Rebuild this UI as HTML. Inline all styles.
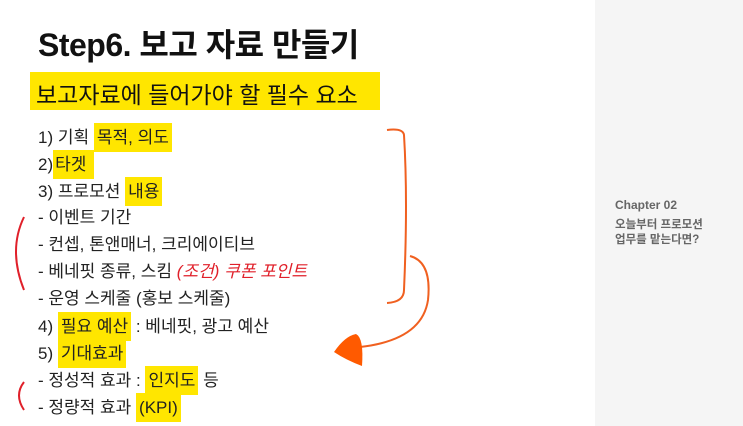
<!DOCTYPE html>
<html><head><meta charset="utf-8"><style>
body{margin:0;width:743px;height:426px;background:#fff;position:relative;overflow:hidden;font-family:"Liberation Sans","Noto Sans CJK KR",sans-serif;}
.side{position:absolute;left:595px;top:0;width:148px;height:426px;background:#f5f5f5;}
.t{position:absolute;white-space:nowrap;color:#111;}
.hl{background:#ffe600;display:inline-block;line-height:29px;height:29px;padding:0 3px;}
.l{position:absolute;left:38px;font-size:17px;line-height:27px;white-space:nowrap;color:#222;}
</style></head><body>
<div class="side"></div>
<div class="t" style="left:38px;top:20px;font-size:32px;font-weight:bold;letter-spacing:-0.5px">Step6. 보고 자료 만들기</div>
<div class="t hl" style="left:30px;top:72px;width:350px;height:38px;padding:0"></div>
<div class="t" style="left:36px;top:76px;font-size:23px;">보고자료에 들어가야 할 필수 요소</div>
<div class="l" style="top:123px">1) 기획 <span class="hl">목적, 의도</span></div>
<div class="l" style="top:150px">2)<span class="hl" style="padding:0 8px 0 2px">타겟</span></div>
<div class="l" style="top:177px">3) 프로모션 <span class="hl">내용</span></div>
<div class="l" style="top:204px">- 이벤트 기간</div>
<div class="l" style="top:231px">- 컨셉, 톤앤매너, 크리에이티브</div>
<div class="l" style="top:258px">- 베네핏 종류, 스킴<span style="color:#e0202a;font-style:italic"> (조건) 쿠폰 포인트</span></div>
<div class="l" style="top:285px">- 운영 스케줄 (홍보 스케줄)</div>
<div class="l" style="top:312px">4) <span class="hl">필요 예산</span> : 베네핏, 광고 예산</div>
<div class="l" style="top:339px">5) <span class="hl">기대효과</span></div>
<div class="l" style="top:366px">- 정성적 효과 : <span class="hl">인지도</span> 등</div>
<div class="l" style="top:393px">- 정량적 효과 <span class="hl">(KPI)</span></div>
<div class="t" style="left:615px;top:198px;font-size:12px;font-weight:bold;color:#666">Chapter 02</div>
<div class="t" style="left:615px;top:218px;font-size:11.5px;line-height:15px;font-weight:bold;color:#666">오늘부터 프로모션<br>업무를 맡는다면?</div>
<svg style="position:absolute;left:0;top:0" width="743" height="426">
<path d="M387 130 Q403 128 404 135 Q408 200 404 290 Q404 302 387 303" fill="none" stroke="#f06020" stroke-width="2"/>
<path d="M410 256 Q432 262 428 300 Q422 340 360 347" fill="none" stroke="#f06020" stroke-width="2"/>
<path d="M334 352 Q345 336 356 334 Q364 338 362 366 Q346 360 334 352Z" fill="#ff5a00"/>
<path d="M24 217 Q8 250 24 290" fill="none" stroke="#e0202a" stroke-width="2"/>
<path d="M24 382 Q14 395 24 410" fill="none" stroke="#e0202a" stroke-width="2"/>
</svg>
</body></html>
